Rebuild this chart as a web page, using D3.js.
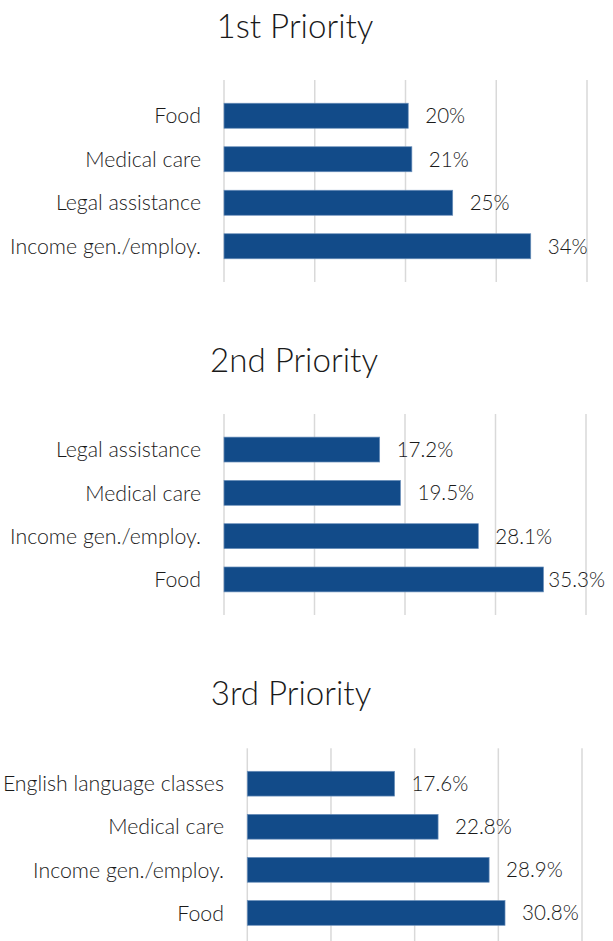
<!DOCTYPE html>
<html><head><meta charset="utf-8">
<script src="https://cdn.jsdelivr.net/npm/d3@7"></script>
<style>
html,body{margin:0;padding:0;background:#fff;}
svg{display:block;}
text{font-family:Lato,"Open Sans",sans-serif;font-weight:300;fill:#1a1a1a;}
</style></head>
<body>
<svg id="chart" width="613" height="941"></svg>
<script>
// ---- data ----
const titles = ["1st Priority", "2nd Priority", "3rd Priority"];
const categories1 = ["Food", "Medical care", "Legal assistance", "Income gen./employ."];
const values1 = [20.3, 20.7, 25.2, 33.8];
const categories2 = ["Legal assistance", "Medical care", "Income gen./employ.", "Food"];
const values2 = [17.2, 19.5, 28.1, 35.3];
const categories3 = ["English language classes", "Medical care", "Income gen./employ.", "Food"];
const values3 = [17.6, 22.8, 28.9, 30.8];
const labelFormats = [".0f", ".1f", ".1f"];
const xTicks = [0, 10, 20, 30, 40];

const panels = [
  {title: titles[0], cats: categories1, vals: values1, fmt: labelFormats[0],
   titleX: 295, titleY: 38, top: 80, bottom: 282, x0: 224, x1: 587, labelRight: 201},
  {title: titles[1], cats: categories2, vals: values2, fmt: labelFormats[1],
   titleX: 294, titleY: 372, top: 414, bottom: 615, x0: 224, x1: 586, labelRight: 201},
  {title: titles[2], cats: categories3, vals: values3, fmt: labelFormats[2],
   titleX: 291, titleY: 705, top: 748.3, bottom: 948.3, x0: 247.3, x1: 582, labelRight: 224}
];

const svg = d3.select("#chart");

// measure helper to size fonts to the reference widths
function fitSize(str, targetWidth) {
  const t = svg.append("text").attr("font-size", 100).text(str);
  const w = t.node().getComputedTextLength();
  t.remove();
  return 100 * targetWidth / w;
}
const titleSize = fitSize("2nd Priority", 168);
const catSize = fitSize("Income gen./employ.", 191);
const valSize = fitSize("35.3%", 56.7);

panels.forEach(p => {
  const g = svg.append("g");
  const x = d3.scaleLinear().domain([0, 40]).range([p.x0, p.x1]);
  const y = d3.scaleBand().domain(p.cats).range([p.top, p.bottom])
      .paddingInner(0.425).paddingOuter(0.534);

  // title
  g.append("text").attr("x", p.titleX).attr("y", p.titleY)
    .attr("text-anchor", "middle").attr("font-size", titleSize).text(p.title);

  // gridlines
  g.selectAll("line.grid").data(xTicks).join("line")
    .attr("x1", d => x(d)).attr("x2", d => x(d))
    .attr("y1", p.top).attr("y2", p.bottom)
    .attr("stroke", "#d9d9d9").attr("stroke-width", 1.5);

  // bars
  const data = p.cats.map((c, i) => ({cat: c, val: p.vals[i]}));
  g.selectAll("rect.bar").data(data).join("rect")
    .attr("x", x(0)).attr("y", d => y(d.cat))
    .attr("width", d => x(d.val) - x(0)).attr("height", y.bandwidth())
    .attr("fill", "#124b89").attr("stroke", "#6a8fba").attr("stroke-width", 0.7);

  // category labels
  g.selectAll("text.cat").data(data).join("text")
    .attr("x", p.labelRight).attr("y", d => y(d.cat) + y.bandwidth() / 2)
    .attr("dy", "0.36em").attr("text-anchor", "end").attr("font-size", catSize)
    .text(d => d.cat);

  // value labels
  const fmt = d3.format(p.fmt);
  g.selectAll("text.val").data(data).join("text")
    .attr("y", d => y(d.cat) + y.bandwidth() / 2)
    .attr("dy", "0.36em").attr("font-size", valSize)
    .text(d => fmt(d.val) + "%")
    .each(function(d) {
      const w = this.getComputedTextLength();
      let lx = x(d.val) + 17;
      if (lx + w > 605) lx = 605 - w;
      d3.select(this).attr("x", lx);
    });
});
</script>
</body></html>
